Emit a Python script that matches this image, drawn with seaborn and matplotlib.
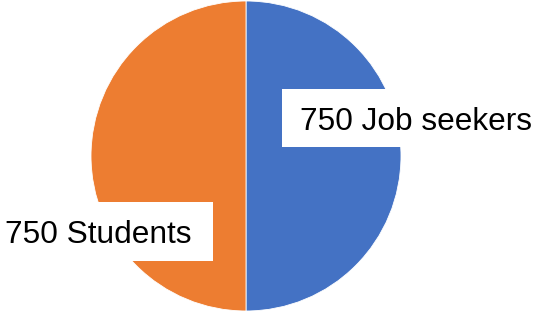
import matplotlib
matplotlib.use("Agg")
import matplotlib.pyplot as plt
from matplotlib.patches import Rectangle
import seaborn as sns

# data
groups = ["Job seekers", "Students"]
counts = [750, 750]
colors = ["#4472C4", "#ED7D31"]

sns.set_theme(style="white")
plt.rcParams["font.family"] = ["Liberation Sans", "DejaVu Sans"]

fig = plt.figure(figsize=(5.35, 3.12), dpi=100)
ax = fig.add_axes([0, 0, 1, 1])

ax.pie(counts, colors=colors, startangle=90, counterclock=False,
       center=(246, 156), radius=155, frame=True,
       wedgeprops={"edgecolor": "white", "linewidth": 0.6})
ax.set_xlim(0, 535)
ax.set_ylim(0, 312)
ax.set_aspect("equal")
ax.axis("off")

# label boxes (x, y_bottom, w, h) and text anchor
boxes = [(282, 165, 260, 58), (-5, 51, 218, 59)]
anchors = [(300, 182), (5, 69)]
for (bx, by, bw, bh), (tx, ty), g, c in zip(boxes, anchors, groups, counts):
    ax.add_patch(Rectangle((bx, by), bw, bh, facecolor="white", edgecolor="none", zorder=3))
    ax.text(tx, ty, f"{c} {g}", fontsize=22.8, color="black", va="baseline", ha="left", zorder=4)

fig.savefig("out.png", dpi=100)
